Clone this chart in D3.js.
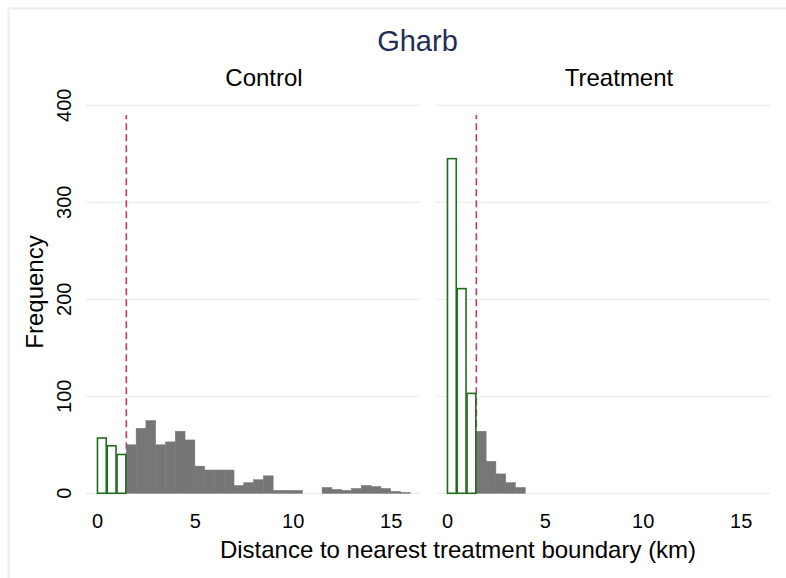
<!DOCTYPE html>
<html>
<head>
<meta charset="utf-8">
<script src="https://cdn.jsdelivr.net/npm/d3@7"></script>
<style>
  html, body { margin: 0; padding: 0; background: #fff; }
  svg { display: block; font-family: "Liberation Sans", Arial, sans-serif; }
</style>
</head>
<body>
<svg id="chart" width="786" height="578"></svg>
<script>
// Histogram of distance to nearest treatment boundary, Gharb region.
// Bins are 0.5 km wide; counts are given per bin starting at the listed lower edge.
const binWidth = 0.5;
const cutoffKm = 1.5;            // dashed reference line
const dashTop = 390;             // top value of the reference line

// Control group: bins inside the cutoff (outlined) and beyond it (filled)
const controlNearStart = 0;
const controlNear = [57, 49, 40];
const controlFarStart = 1.5;
const controlFar = [50, 67, 75, 50, 53, 64, 55, 28, 24, 24, 24, 8, 11, 14, 18, 3, 3, 3,
                    0, 0, 6, 4, 3, 5, 8, 7, 5, 2, 1];

// Treatment group
const treatNearStart = 0;
const treatNear = [345, 211, 103];
const treatFarStart = 1.5;
const treatFar = [64, 33, 20, 11, 6];

const xTicks = [0, 5, 10, 15];
const yTicks = [0, 100, 200, 300, 400];

const panels = [
  { name: "Control", near: controlNear, nearStart: controlNearStart, far: controlFar, farStart: controlFarStart,
    range: [86, 420], labelX: 264 },
  { name: "Treatment", near: treatNear, nearStart: treatNearStart, far: treatFar, farStart: treatFarStart,
    range: [436, 770], labelX: 619 }
];

const svg = d3.select("#chart");

// faint outer frame (left and top edges)
svg.append("path")
  .attr("d", "M8.5,578 L8.5,8.5 L786,8.5")
  .attr("fill", "none")
  .attr("stroke", "#e9efed")
  .attr("stroke-width", 2);

const y = d3.scaleLinear().domain([0, 400]).range([493.3, 105.3]);

const gridColor = "#e8eff1";
const grayFill = "#767676";
const greenStroke = "#1f6e1f";
const dashColor = "#c9385f";

panels.forEach(p => {
  const x = d3.scaleLinear().domain([-0.56, 16.5]).range(p.range);
  const g = svg.append("g");

  // horizontal grid
  g.selectAll("line.grid").data(yTicks).join("line")
    .attr("class", "grid")
    .attr("x1", p.range[0]).attr("x2", p.range[1])
    .attr("y1", d => y(d)).attr("y2", d => y(d))
    .attr("stroke", gridColor).attr("stroke-width", 1.2);

  // reference line at the cutoff
  g.append("line")
    .attr("x1", x(cutoffKm)).attr("x2", x(cutoffKm))
    .attr("y1", y(0)).attr("y2", y(dashTop))
    .attr("stroke", dashColor).attr("stroke-width", 1.6)
    .attr("stroke-dasharray", "7,4");

  // filled bins beyond cutoff
  g.selectAll("rect.far").data(p.far.map((v, i) => ({ lo: p.farStart + i * binWidth, v })).filter(d => d.v > 0))
    .join("rect")
    .attr("class", "far")
    .attr("x", d => x(d.lo))
    .attr("width", d => x(d.lo + binWidth) - x(d.lo))
    .attr("y", d => y(d.v))
    .attr("height", d => y(0) - y(d.v))
    .attr("fill", grayFill)
    .attr("stroke", grayFill).attr("stroke-width", 0.5);

  // outlined bins inside cutoff
  g.selectAll("rect.near").data(p.near.map((v, i) => ({ lo: p.nearStart + i * binWidth, v })))
    .join("rect")
    .attr("class", "near")
    .attr("x", d => x(d.lo) + 0.5)
    .attr("width", d => x(d.lo + binWidth) - x(d.lo) - 1)
    .attr("y", d => y(d.v))
    .attr("height", d => y(0) - y(d.v))
    .attr("fill", "#fff")
    .attr("stroke", greenStroke).attr("stroke-width", 1.6);

  // x axis labels
  const xAxis = d3.axisBottom(x).tickValues(xTicks).tickSize(0).tickPadding(0).tickFormat(d3.format("d"));
  const ax = g.append("g").attr("transform", "translate(0,527.5)").call(xAxis);
  ax.select(".domain").remove();
  ax.selectAll("text")
    .attr("dy", null).attr("y", 0)
    .attr("font-size", 20).attr("fill", "#000")
    .attr("font-family", "Liberation Sans, Arial, sans-serif");

  // panel subtitle
  svg.append("text")
    .attr("x", p.labelX).attr("y", 86)
    .attr("text-anchor", "middle")
    .attr("font-size", 24).attr("fill", "#000")
    .text(p.name);
});

// y tick labels (rotated)
svg.append("g").selectAll("text").data(yTicks).join("text")
  .attr("transform", d => `translate(71,${y(d)}) rotate(-90)`)
  .attr("text-anchor", "middle")
  .attr("font-size", 20).attr("fill", "#000")
  .text(d => d);

// axis titles
svg.append("text")
  .attr("transform", "translate(43,292) rotate(-90)")
  .attr("text-anchor", "middle")
  .attr("font-size", 24).attr("fill", "#000")
  .text("Frequency");

svg.append("text")
  .attr("x", 458).attr("y", 558)
  .attr("text-anchor", "middle")
  .attr("font-size", 24).attr("fill", "#000")
  .text("Distance to nearest treatment boundary (km)");

// title
svg.append("text")
  .attr("x", 417.5).attr("y", 51)
  .attr("text-anchor", "middle")
  .attr("font-size", 29).attr("fill", "#1f2d55")
  .text("Gharb");
</script>
</body>
</html>
